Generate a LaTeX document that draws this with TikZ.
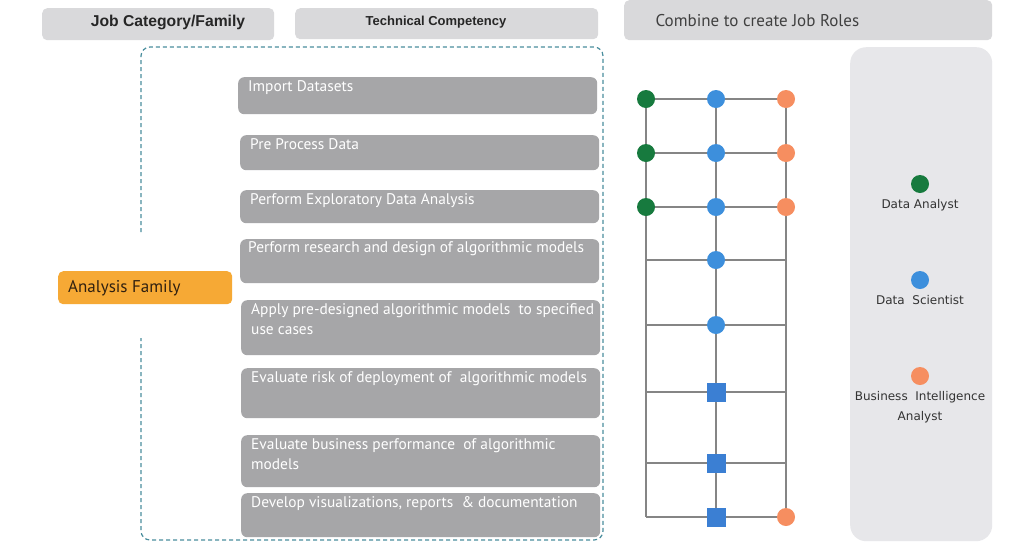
\documentclass[tikz,border=0pt]{standalone}
\usepackage{fontspec}
\setmainfont{PT Sans}
\newfontfamily\headfont{Liberation Sans}
\newfontfamily\rolefont{DejaVu Sans}
\usetikzlibrary{positioning}

\definecolor{hdgray}{HTML}{D9D9DB}
\definecolor{taskgray}{HTML}{A6A6A8}
\definecolor{famorange}{HTML}{F6A935}
\definecolor{panelgray}{HTML}{E7E7EA}
\definecolor{framecol}{HTML}{4A8E9E}
\definecolor{linegray}{HTML}{858585}
\definecolor{dagreen}{HTML}{177A3E}
\definecolor{dsblue}{HTML}{3D8FDC}
\definecolor{biorange}{HTML}{F68E60}
\definecolor{sqblue}{HTML}{3B7FD3}

\begin{document}
\begin{tikzpicture}[x=1pt,y=-1pt,
	head/.style={fill=hdgray,rounded corners=5pt,anchor=north west,inner sep=0pt},
	task/.style={fill=taskgray,rounded corners=6pt,anchor=north west,inner sep=0pt,minimum width=359pt},
	tasktext/.style={inner sep=0pt,anchor=north west,align=left,text=white,font=\fontsize{15.4}{20.5}\selectfont},
	grid/.style={draw=linegray,line width=2.2pt},
	gdot/.style={circle,fill=dagreen,inner sep=0pt,minimum size=18pt},
	bdot/.style={circle,fill=dsblue,inner sep=0pt,minimum size=18pt},
	odot/.style={circle,fill=biorange,inner sep=0pt,minimum size=18pt},
	bsq/.style={rectangle,fill=sqblue,inner sep=0pt,minimum size=19pt},
	role/.style={inner sep=0pt,align=center,text=black!80,font=\rolefont\fontsize{12}{20}\selectfont}]
		\useasboundingbox[fill=white] (0,0) rectangle (1024,547);

		% headers
		\node[head,minimum width=232pt,minimum height=32pt]	(jobhead)	at (42,8)	{};
		\node[font=\headfont\bfseries\fontsize{15.7}{18}\selectfont,text=black!85]	(jobtext)	at (168,22)	{Job Category/Family};
		\node[head,minimum width=303pt,minimum height=31pt]	(techhead)	at (295,8)	{};
		\node[font=\headfont\bfseries\fontsize{13}{16}\selectfont,text=black!85]	(techtext)	at (436,22)	{Technical Competency};
		\node[head,minimum width=368pt,minimum height=40pt]	(rolehead)	at (624,0)	{};
		\node[font=\fontsize{17}{20}\selectfont,text=black!75,anchor=west]	(roletext)	at (652,21)	{Combine to create Job Roles};

		% dashed frame, open round the family box
		\draw[framecol,line width=1.2pt,dash pattern=on 4pt off 3pt,rounded corners=9pt] (141,232) -- (141,47) -- (603,47) -- (603,540) -- (141,540) -- (141,338);

		\node[fill=famorange,rounded corners=5pt,anchor=north west,inner sep=0pt,minimum width=174pt,minimum height=33pt]	(fam)	at (58,271)	{};
		\node[inner sep=0pt,anchor=west,text=black!75!brown,font=\fontsize{17}{20}\selectfont,right=10pt of fam.west]	(famtext)	{Analysis Family};

		% competencies
		\node[task,minimum height=37pt]	(t1)	at (238,77)		{};
		\node[task,minimum height=35pt]	(t2)	at (240,135)	{};
		\node[task,minimum height=33pt]	(t3)	at (240,190)	{};
		\node[task,minimum height=44pt]	(t4)	at (240,239)	{};
		\node[task,minimum height=55pt]	(t5)	at (241,300)	{};
		\node[task,minimum height=50pt]	(t6)	at (241,368)	{};
		\node[task,minimum height=52pt]	(t7)	at (241,435)	{};
		\node[task,minimum height=44pt]	(t8)	at (241,493)	{};

		\node[tasktext,below right=3pt and 10pt of t1.north west]	(t1txt)	{Import Datasets};
		\node[tasktext,below right=3pt and 10pt of t2.north west]	(t2txt)	{Pre Process Data};
		\node[tasktext,below right=3pt and 10pt of t3.north west]	(t3txt)	{Perform Exploratory Data Analysis};
		\node[tasktext,below right=2pt and 8pt of t4.north west]	(t4txt)	{Perform research and design of algorithmic models};
		\node[tasktext,below right=3pt and 10pt of t5.north west]	(t5txt)	{Apply pre-designed algorithmic models\ \ to specified\\use cases};
		\node[tasktext,below right=3pt and 10pt of t6.north west]	(t6txt)	{Evaluate risk of deployment of\ \ algorithmic models};
		\node[tasktext,below right=3pt and 10pt of t7.north west]	(t7txt)	{Evaluate business performance\ \ of algorithmic\\models};
		\node[tasktext,below right=3pt and 10pt of t8.north west]	(t8txt)	{Develop visualizations, reports\ \ \& documentation};

		% grid points
		\coordinate (a1) at (646,99);	\coordinate (b1) at (716,99);	\coordinate (c1) at (786,99);
		\coordinate (a2) at (646,153);	\coordinate (b2) at (716,153);	\coordinate (c2) at (786,153);
		\coordinate (a3) at (646,207);	\coordinate (b3) at (716,207);	\coordinate (c3) at (786,207);
		\coordinate (a4) at (646,260);	\coordinate (b4) at (716,260);	\coordinate (c4) at (786,260);
		\coordinate (a5) at (646,325);	\coordinate (b5) at (716,325);	\coordinate (c5) at (786,325);
		\coordinate (a6) at (646,392);	\coordinate (b6) at (716,392);	\coordinate (c6) at (786,392);
		\coordinate (a7) at (646,463);	\coordinate (b7) at (716,463);	\coordinate (c7) at (786,463);
		\coordinate (a8) at (646,517);	\coordinate (b8) at (716,517);	\coordinate (c8) at (786,517);

		\draw[grid] (a1) -- (a8);
		\draw[grid] (b1) -- (b8);
		\draw[grid] (c1) -- (c8);
		\draw[grid] (a1) -- (c1);
		\draw[grid] (a2) -- (c2);
		\draw[grid] (a3) -- (c3);
		\draw[grid] (a4) -- (c4);
		\draw[grid] (a5) -- (c5);
		\draw[grid] (a6) -- (c6);
		\draw[grid] (a7) -- (c7);
		\draw[grid] (a8) -- (c8);

		\node[gdot]	(ga1)	at (a1)	{};
		\node[gdot]	(ga2)	at (a2)	{};
		\node[gdot]	(ga3)	at (a3)	{};
		\node[bdot]	(bb1)	at (b1)	{};
		\node[bdot]	(bb2)	at (b2)	{};
		\node[bdot]	(bb3)	at (b3)	{};
		\node[bdot]	(bb4)	at (b4)	{};
		\node[bdot]	(bb5)	at (b5)	{};
		\node[bsq]	(sb6)	at (b6)	{};
		\node[bsq]	(sb7)	at (b7)	{};
		\node[bsq]	(sb8)	at (b8)	{};
		\node[odot]	(oc1)	at (c1)	{};
		\node[odot]	(oc2)	at (c2)	{};
		\node[odot]	(oc3)	at (c3)	{};
		\node[odot]	(oc8)	at (c8)	{};

		% roles
		\node[fill=panelgray,rounded corners=16pt,anchor=north west,inner sep=0pt,minimum width=142pt,minimum height=494pt]	(panel)	at (850,47)	{};
		\node[gdot,minimum size=18pt]	(lgreen)	at (920,184)	{};
		\node[role,below=6pt of lgreen]		(lgreentxt)		{Data Analyst};
		\node[bdot,minimum size=18pt]	(lblue)		at (920,280)	{};
		\node[role,below=6pt of lblue]		(lbluetxt)		{Data\ \ Scientist};
		\node[odot,minimum size=18pt]	(lorange)	at (920,376)	{};
		\node[role,below=6pt of lorange]	(lorangetxt)	{Business\ \ Intelligence\\Analyst};
	\end{tikzpicture}
\end{document}
